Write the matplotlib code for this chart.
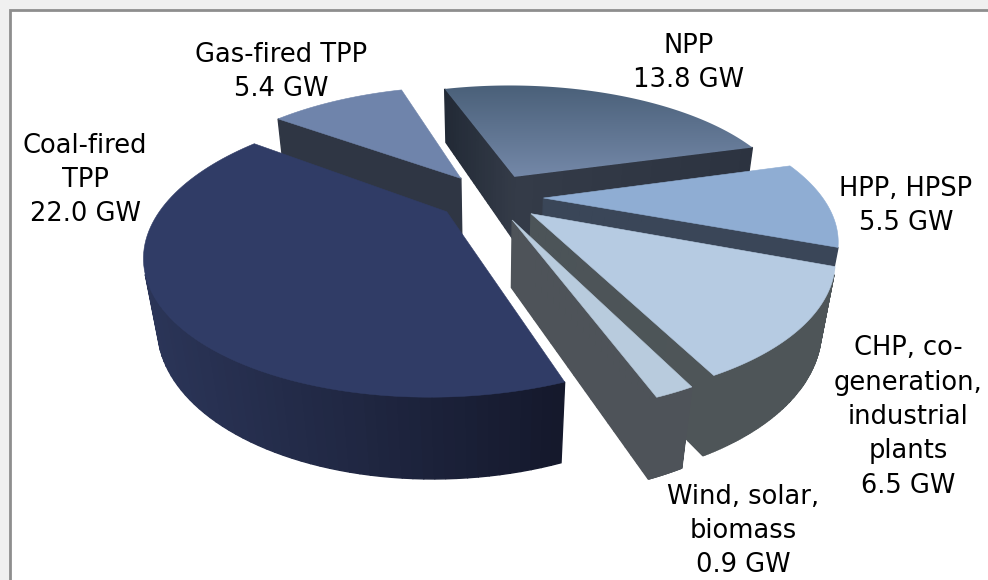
import matplotlib
matplotlib.use('Agg')
import matplotlib.pyplot as plt
from matplotlib.patches import Polygon, Rectangle
from matplotlib.colors import to_rgb
import numpy as np

# Slices in clockwise order starting from the back
names = ['NPP', 'HPP', 'CHP', 'Wind', 'Coal', 'Gas']
values = [13.8, 5.5, 6.5, 0.9, 22.0, 5.4]
labels = ['NPP\n13.8 GW', 'HPP, HPSP\n5.5 GW',
          'CHP, co-\ngeneration,\nindustrial\nplants\n6.5 GW',
          'Wind, solar,\nbiomass\n0.9 GW', 'Coal-fired\nTPP\n22.0 GW',
          'Gas-fired TPP\n5.4 GW']
label_pos = [(689, 63), (906, 206), (908, 417), (743, 531), (85, 180), (281, 72)]

top_colors = ['#5f7591', '#8fadd3', '#b6cbe2', '#b8cbdd', '#303c66', '#6f84ab']
wall_colors = [('#2c3340', '#2c3340'), ('#3a4658', '#3a4658'), ('#4e5558', '#4e5558'),
               ('#4e5359', '#4e5359'), ('#2b3558', '#14182b'), ('#2f3644', '#2f3644')]
cut_colors = [('#222a36', '#343b48'), ('#3a4658', '#3a4658'), ('#4c5458', '#4c5458'),
              ('#4e5359', '#4e5359'), ('#1c2440', '#1c2440'), ('#2f3644', '#2f3644')]
draw_order = ['NPP', 'Gas', 'HPP', 'CHP', 'Wind', 'Coal']

# Pie geometry (pinhole camera looking down on the pie)
start_angle = 107.7
explode = 0.19
height = 0.272
cx, cy = 490.5, 197
theta = np.radians(26.8)
D = 3.305
f = 921


def project(x, y, z):
    yc = y * np.sin(theta) + z * np.cos(theta)
    zc = D + y * np.cos(theta) - z * np.sin(theta)
    return cx + f * x / zc, cy - f * yc / zc


def mix(a, b, t):
    return tuple(np.array(to_rgb(a)) * (1 - t) + np.array(to_rgb(b)) * t)


def front_facing(pts):
    x, y = np.array(pts).T
    return np.sum(x * np.roll(y, -1) - np.roll(x, -1) * y) > 0


fig = plt.figure(figsize=(9.88, 5.8), dpi=100, facecolor='#f0f0f0')
ax = fig.add_axes([0, 0, 1, 1])
ax.set_xlim(0, 988)
ax.set_ylim(580, 0)
ax.axis('off')
ax.add_patch(Rectangle((10, 10), 990, 580, fc='white', ec='#8e8e8e', lw=2.0, zorder=0))

spans = np.array(values) / sum(values) * 360
ends = start_angle - np.cumsum(spans)
starts = ends + spans
z = 1

for name in draw_order:
    i = names.index(name)
    t0, t1 = np.radians(ends[i]), np.radians(starts[i])
    mid = (t0 + t1) / 2
    ox, oy = explode * np.cos(mid), explode * np.sin(mid)
    t = np.linspace(t0, t1, 90)
    rx, ry = ox + np.cos(t), oy + np.sin(t)
    top = [project(a, b, 0) for a, b in zip(rx, ry)]
    bot = [project(a, b, -height) for a, b in zip(rx, ry)]
    ap_top = project(ox, oy, 0)
    ap_bot = project(ox, oy, -height)

    # cut faces, split in strips so they can carry a shade
    for k, (p0, q0, p1, q1) in enumerate([(ap_top, ap_bot, top[0], bot[0]),
                                           (top[-1], bot[-1], ap_top, ap_bot)]):
        quad = [p0, p1, q1, q0]
        if not front_facing(quad):
            continue
        n = 24
        for s in range(n):
            a, b = s / n, (s + 1) / n
            strip = [np.array(p0) + (np.array(p1) - np.array(p0)) * a,
                     np.array(p0) + (np.array(p1) - np.array(p0)) * b,
                     np.array(q0) + (np.array(q1) - np.array(q0)) * b,
                     np.array(q0) + (np.array(q1) - np.array(q0)) * a]
            if k == 1:
                col = mix(cut_colors[i][0], cut_colors[i][1], a)
            else:
                col = mix(cut_colors[i][1], wall_colors[i][0], a)
            ax.add_patch(Polygon(strip, fc=col, ec=col, lw=1.0, zorder=z))
        z += 1

    # outer wall, shaded left to right across the slice
    xs = [p[0] for p in top]
    for s in range(len(top) - 1):
        quad = [top[s], top[s + 1], bot[s + 1], bot[s]]
        if front_facing(quad):
            frac = (top[s][0] - min(xs)) / (max(xs) - min(xs))
            col = mix(wall_colors[i][0], wall_colors[i][1], frac)
            ax.add_patch(Polygon(quad, fc=col, ec=col, lw=1.0, zorder=z))
    z += 1

    # top face
    outline = [ap_top] + top
    if name == 'NPP':
        grad = np.linspace(0, 1, 256).reshape(-1, 1, 1) * (np.array(to_rgb('#7488a8')) - np.array(to_rgb('#4a6079'))) + np.array(to_rgb('#4a6079'))
        ys = [p[1] for p in outline]
        xs = [p[0] for p in outline]
        im = ax.imshow(grad, extent=(min(xs), max(xs), max(ys), min(ys)), aspect='auto', zorder=z)
        im.set_clip_path(Polygon(outline, transform=ax.transData))
        ax.set_xlim(0, 988)
        ax.set_ylim(580, 0)
    else:
        ax.add_patch(Polygon(outline, fc=top_colors[i], ec=top_colors[i], lw=0.4, zorder=z))
    z += 1

for lab, (x, y) in zip(labels, label_pos):
    ax.text(x, y, lab, ha='center', va='center', fontsize=18.5, color='black',
            linespacing=1.42, family='DejaVu Sans', zorder=z)

fig.savefig('out.png', dpi=100, facecolor=fig.get_facecolor())
